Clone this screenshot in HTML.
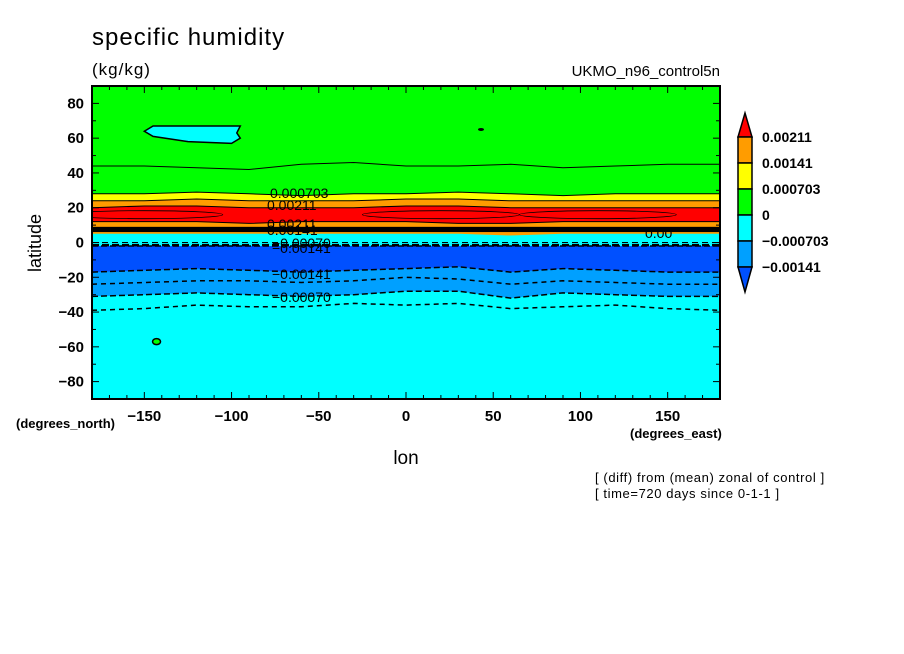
<!DOCTYPE html>
<html><head><meta charset="utf-8">
<style>
body{margin:0;background:#fff;}
svg{display:block;font-family:"Liberation Sans","DejaVu Sans",sans-serif;}
</style></head>
<body>
<svg id="chart" width="904" height="654" viewBox="0 0 904 654">
<defs><clipPath id="pc"><rect x="92" y="86" width="628" height="313"/></clipPath></defs>
<text x="92" y="45" font-size="24" letter-spacing="1">specific humidity</text>
<text x="92" y="75" font-size="17" letter-spacing="1">(kg/kg)</text>
<text x="720" y="76" font-size="15" text-anchor="end">UKMO_n96_control5n</text>
<g id="plot" clip-path="url(#pc)"></g>
<g id="axes"></g>
<g id="cbar"></g>
<text x="406" y="464" font-size="19" text-anchor="middle">lon</text>
<text x="41" y="243" font-size="18" text-anchor="middle" transform="rotate(-90 41 243)">latitude</text>
<text x="16" y="428" font-size="13" font-weight="bold">(degrees_north)</text>
<text x="630" y="438" font-size="13" font-weight="bold">(degrees_east)</text>
<text x="595" y="482" font-size="13" letter-spacing="0.6">[ (diff) from (mean) zonal of control ]</text>
<text x="595" y="498" font-size="13" letter-spacing="0.6">[ time=720 days since 0-1-1 ]</text>
</svg>
<script>
const lonNodes=[-180,-150,-120,-90,-60,-30,0,30,60,90,120,150,180];
const bYellow=[28,28,29,28,27,28,28,29,28,27,28,28,28];
const bOrange=[24,24,25,24,24,24,25,25,24,24,24,24,24];
const bRed=[20,21,21,20,20,20,21,21,20,20,20,20,20];
const bOrange2=[12,12,12,11,12,12,12,11,11,12,12,12,12];
const bCyan=[5,5,5,5,5,5,5,5,4,5,5,5,5];
const bBlue=[-2,-2,-2,-2,-2,-2,-2,-2,-2,-2,-2,-2,-2];
const bLBlue=[-17,-16,-15,-16,-17,-16,-15,-14,-17,-15,-16,-17,-17];
const bCyan2=[-31,-30,-29,-30,-31,-30,-28,-28,-32,-29,-30,-31,-31];
const line45=[44,44,43,42,45,46,44,44,45,43,44,45,45];
const lineNeg35=[-39,-38,-36,-37,-37,-35,-36,-35,-38,-37,-36,-38,-39];
const lineNeg23=[-24,-23,-22,-22,-23,-22,-20,-21,-24,-22,-23,-24,-24];
const xTicks=[-150,-100,-50,0,50,100,150];
const yTicks=[80,60,40,20,0,-20,-40,-60,-80];
const cbLabels=["0.00211","0.00141","0.000703","0","\u22120.000703","\u22120.00141"];
const cbColors=["#ff9c00","#ffff00","#00ff00","#00ffff","#00a0ff"];

const L=92,R=720,T=86,B=399;
const xs=lon=>L+(lon+180)/360*(R-L);
const ys=lat=>T+(90-lat)/180*(B-T);
const NS="http://www.w3.org/2000/svg";
function mk(tag,attrs,parent){const e=document.createElementNS(NS,tag);for(const k in attrs)e.setAttribute(k,attrs[k]);parent.appendChild(e);return e;}
function pathOf(arr){return arr.map((v,i)=>(i?'L':'M')+xs(lonNodes[i]).toFixed(1)+' '+ys(v).toFixed(1)).join(' ');}
const plot=document.getElementById('plot');
let r=mk('rect',{x:L,y:T,width:R-L,height:B-T,fill:'#00ff00'},plot);


const bands=[[bYellow,'#ffff00','band-yellow'],[bOrange,'#ff9c00','band-orange'],[bRed,'#ff0000','band-red'],[bOrange2,'#ff9c00','band-orange-low'],[bCyan,'#00ffff','band-cyan-eq'],[bBlue,'#0050ff','band-blue'],[bLBlue,'#00a0ff','band-lightblue'],[bCyan2,'#00ffff','band-cyan-south']];
bands.forEach(([arr,col,nm])=>{
  const p=mk('path',{d:pathOf(arr)+` L${R} ${B} L${L} ${B} Z`,fill:col},plot);
  
  
});
const bl=mk('rect',{x:L,y:ys(9),width:R-L,height:ys(6)-ys(9),fill:'#000'},plot);


[[bYellow,''],[bOrange,''],[bRed,''],[bOrange2,''],[line45,''],[bBlue,'6 3'],[bLBlue,'6 3'],[bCyan2,'6 3'],[lineNeg23,'5 4'],[lineNeg35,'5 4']].forEach(([arr,da])=>{
  const p=mk('path',{d:pathOf(arr),fill:'none',stroke:'#000','stroke-width':da?1.5:1,'stroke-dasharray':da},plot);
  
  
});
[[0,1,'6 4'],[-1.5,2.5,'7 3']].forEach(([lat,w,da])=>{
  const d2=mk('path',{d:`M${L} ${ys(lat)} L${R} ${ys(lat)}`,stroke:'#000','stroke-width':w,'stroke-dasharray':da,fill:'none'},plot);
  
  
});
[[-150,16,45],[20,16,45],[110,16,45]].forEach(([lon,lat,w])=>{
  const e=mk('ellipse',{cx:xs(lon),cy:ys(lat),rx:w*1.744,ry:4,fill:'none',stroke:'#000','stroke-width':0.8},plot);
  
  
});
const cp=mk('path',{d:`M${xs(-150)} ${ys(64)} L${xs(-145)} ${ys(67)} L${xs(-95)} ${ys(67)} L${xs(-97)} ${ys(63)} L${xs(-95)} ${ys(60)} L${xs(-100)} ${ys(57)} L${xs(-125)} ${ys(58)} L${xs(-145)} ${ys(61)} Z`,fill:'#00ffff',stroke:'#000','stroke-width':1.5},plot);


const gp=mk('ellipse',{cx:xs(-143),cy:ys(-57),rx:4,ry:3,fill:'#00ff00',stroke:'#000','stroke-width':1.5},plot);


const sp=mk('ellipse',{cx:xs(43),cy:ys(65),rx:3,ry:1.5,fill:'#000'},plot);


[["0.000703",270,198],["0.00211",267,210],["0.00211",267,229],["0.00141",267,235],["\u22120.00070",272,248],["\u22120.00141",272,253],["\u22120.00141",272,279],["\u22120.00070",272,302],["0.00",645,238]].forEach(([t,x,y])=>{
  const tx=mk('text',{x:x,y:y,'font-size':14,fill:'#000'},plot);
  tx.textContent=t;
  
  
});
const ax=document.getElementById('axes');
const fr=mk('rect',{x:L,y:T,width:R-L,height:B-T,fill:'none',stroke:'#000','stroke-width':2},ax);


for(let lon=-170;lon<=170;lon+=10){
  const big=lon%50===0;
  mk('line',{x1:xs(lon),x2:xs(lon),y1:B,y2:B-(big?7:4),stroke:'#000'},ax);
  mk('line',{x1:xs(lon),x2:xs(lon),y1:T,y2:T+(big?7:4),stroke:'#000'},ax);
}
xTicks.forEach(v=>{
  const t=mk('text',{x:xs(v),y:B+22,'font-size':15,'font-weight':'bold','text-anchor':'middle'},ax);
  t.textContent=v<0?'\u2212'+(-v):String(v);
  
  
});
for(let lat=-80;lat<=80;lat+=10){
  const big=lat%20===0;
  mk('line',{x1:L,x2:L+(big?7:4),y1:ys(lat),y2:ys(lat),stroke:'#000'},ax);
  mk('line',{x1:R,x2:R-(big?7:4),y1:ys(lat),y2:ys(lat),stroke:'#000'},ax);
}
yTicks.forEach(v=>{
  const t=mk('text',{x:L-8,y:ys(v)+5,'font-size':15,'font-weight':'bold','text-anchor':'end'},ax);
  t.textContent=v<0?'\u2212'+(-v):String(v);
  
  
});
const cb=document.getElementById('cbar');
const cx0=738,cw=14,ct=137,ch=26;
const up=mk('path',{d:`M${cx0} ${ct} L${cx0+cw/2} 113 L${cx0+cw} ${ct} Z`,fill:'#ff0000',stroke:'#000','stroke-width':1.5},cb);


cbColors.forEach((c,i)=>{
  const b=mk('rect',{x:cx0,y:ct+i*ch,width:cw,height:ch,fill:c,stroke:'#000','stroke-width':1.5},cb);
  
  
});
const yb=ct+cbColors.length*ch;
const dn=mk('path',{d:`M${cx0} ${yb} L${cx0+cw/2} 292 L${cx0+cw} ${yb} Z`,fill:'#0050ff',stroke:'#000','stroke-width':1.5},cb);


cbLabels.forEach((t,i)=>{
  const tx=mk('text',{x:762,y:ct+i*ch+5,'font-size':14,'font-weight':'bold'},cb);
  tx.textContent=t;
  
  
});
</script>
</body></html>
